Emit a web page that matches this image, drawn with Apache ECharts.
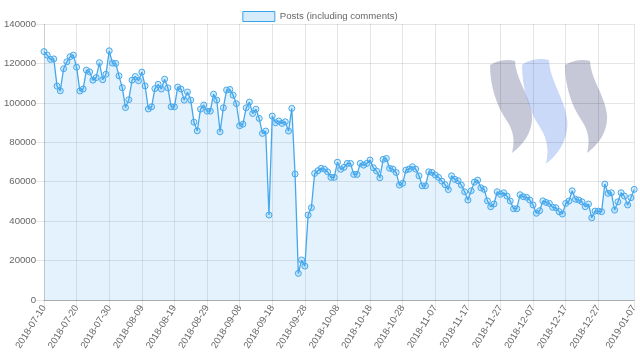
<!DOCTYPE html>
<html>
<head>
<meta charset="utf-8">
<script src="https://cdn.jsdelivr.net/npm/echarts@6/dist/echarts.min.js"></script>
<style>
html,body{margin:0;padding:0;background:#fff;}
#chart{width:640px;height:361px;}
</style>
</head>
<body>
<div id="chart"></div>
<script>
var seriesName = 'Posts (including comments)';
var startDate = '2018-07-10';
var dayCount = 182;
var posts = [
126000,124200,122000,122300,108500,106100,117300,120800,123400,124200,
118100,106000,107000,116600,115700,111500,112800,120400,111700,114500,
126400,120200,120000,113700,107700,97600,101600,111500,113400,111200,
115600,108600,96900,98000,107200,109400,107000,112000,107600,98000,
98000,108000,107000,101400,105500,101400,90200,85800,96800,98900,
95800,95800,104400,101400,85300,97500,106500,106800,103900,99600,
88400,89200,97500,100400,94600,96800,92100,84500,85700,43100,
93300,89900,90800,89600,90400,85700,97200,63900,13500,20300,
17200,43100,46800,64200,65600,66800,66400,65000,62200,62200,
69900,66300,67300,69300,69300,63700,63700,69300,68400,69300,
71000,67100,65400,62000,71300,71800,66800,66400,64700,58300,
59200,65900,66400,67600,66400,63000,57900,57900,65000,64700,
63400,62200,60300,58500,56000,63000,61200,60500,58300,54900,
50700,55400,59800,60800,56900,56100,50300,47300,48700,54900,
53600,54400,52700,50200,46300,46300,53400,52400,52100,50700,
48200,44000,45300,50300,49500,49000,47000,46800,44800,43600,
49000,50200,55400,51100,50700,49800,47300,48700,41700,45100,
45100,44800,58800,54100,54400,45600,49800,54400,52700,48200,
51900,56100
];
var yTicks = [0,20000,40000,60000,80000,100000,120000,140000];

function pad(n){return n<10?'0'+n:''+n;}
var dates = [];
(function(){
  var p = startDate.split('-');
  var d = new Date(Date.UTC(+p[0], +p[1]-1, +p[2]));
  for (var i=0;i<dayCount;i++){
    var t = new Date(d.getTime() + i*86400000);
    dates.push(t.getUTCFullYear()+'-'+pad(t.getUTCMonth()+1)+'-'+pad(t.getUTCDate()));
  }
})();

function shown(idx){ return (idx % 10 === 0 && idx <= dayCount-11) || idx === dayCount-1; }

var FONT = '"Liberation Sans", Arial, Helvetica, sans-serif';
var grid = 'rgba(0,0,0,0.1)';

// decorative watermark (logo), drawn as an inline SVG image
var swoosh = 'M 0,5 C 8,0 18,-1 25,1 C 26,20 40,35 42,55 C 43,72 33,85 22,93 C 26,78 22,68 15,58 C 6,44 0,25 0,5 Z';
var logoSvg = '<svg xmlns="http://www.w3.org/2000/svg" width="120" height="110" viewBox="0 0 120 110">' +
  '<g transform="translate(0,2)"><path d="' + swoosh + '" fill="rgba(120,124,160,0.42)"/></g>' +
  '<g transform="translate(32,1) scale(1.08,1.13)"><path d="' + swoosh + '" fill="rgba(130,165,240,0.42)"/></g>' +
  '<g transform="translate(75,2)"><path d="' + swoosh + '" fill="rgba(120,124,160,0.42)"/></g>' +
  '</svg>';
var logoUrl = 'data:image/svg+xml;charset=utf-8,' + encodeURIComponent(logoSvg);

var chart = echarts.init(document.getElementById('chart'), null, {renderer:'canvas'});
chart.setOption({
  animation:false,
  textStyle:{fontFamily:FONT},
  graphic:[
    {type:'image', left:490, top:58, z:-1, style:{image:logoUrl, width:120, height:110}}
  ],
  legend:{
    top:6, left:'center',
    icon:'rect', itemWidth:32, itemHeight:10,
    itemStyle:{color:'rgba(54,162,235,0.2)', borderColor:'#36a2eb', borderWidth:1},
    textStyle:{fontSize:9.6, color:'#666', fontFamily:FONT},
    data:[seriesName]
  },
  grid:{left:44, right:5, top:24, bottom:61},
  xAxis:{
    type:'category', data:dates, boundaryGap:false,
    axisLine:{show:true, lineStyle:{color:'rgba(0,0,0,0.25)'}},
    axisTick:{show:true, interval:function(i){return shown(i);}, length:8, lineStyle:{color:grid}},
    splitLine:{show:true, interval:function(i){return shown(i);}, lineStyle:{color:grid}},
    axisLabel:{interval:function(i){return shown(i);}, rotate:58, fontSize:9.6, color:'#666', margin:6, fontFamily:FONT}
  },
  yAxis:{
    type:'value', min:yTicks[0], max:yTicks[yTicks.length-1], interval:yTicks[1]-yTicks[0],
    axisLine:{show:true, lineStyle:{color:grid}},
    axisTick:{show:true, length:8, lineStyle:{color:grid}},
    splitLine:{show:true, lineStyle:{color:grid}},
    axisLabel:{fontSize:9.6, color:'#666', margin:8, fontFamily:FONT, formatter:function(v){return String(v);}}
  },
  series:[{
    name:seriesName, type:'line', data:posts,
    symbol:'circle', symbolSize:6, showAllSymbol:true,
    lineStyle:{color:'#45a8ec', width:1.3},
    itemStyle:{color:'rgba(54,162,235,0.2)', borderColor:'#45a8ec', borderWidth:1},
    areaStyle:{color:'rgba(54,162,235,0.2)'},
    emphasis:{disabled:true}
  }]
});
</script>
</body>
</html>
